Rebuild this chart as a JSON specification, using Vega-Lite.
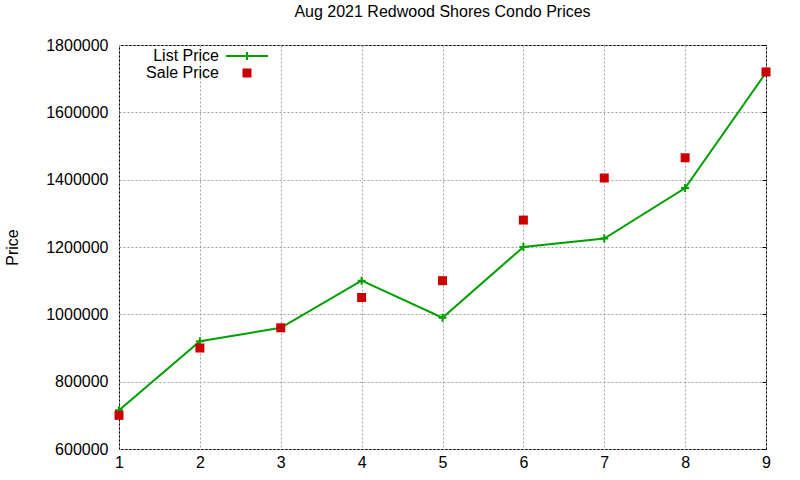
{
  "$schema": "https://vega.github.io/schema/vega-lite/v6.json",
  "width": 647,
  "height": 404,
  "autosize": {"type": "none"},
  "padding": {"left": 119, "top": 45, "right": 34, "bottom": 31},
  "background": "white",
  "title": {
    "text": "Aug 2021 Redwood Shores Condo Prices",
    "font": "Liberation Sans",
    "fontSize": 16,
    "fontWeight": "normal",
    "color": "black",
    "anchor": "middle",
    "offset": 17
  },
  "data": {
    "values": [
      {"n": 1, "series": "List Price", "price": 715000},
      {"n": 2, "series": "List Price", "price": 920000},
      {"n": 3, "series": "List Price", "price": 960000},
      {"n": 4, "series": "List Price", "price": 1100000},
      {"n": 5, "series": "List Price", "price": 990000},
      {"n": 6, "series": "List Price", "price": 1200000},
      {"n": 7, "series": "List Price", "price": 1225000},
      {"n": 8, "series": "List Price", "price": 1375000},
      {"n": 9, "series": "List Price", "price": 1718000},
      {"n": 1, "series": "Sale Price", "price": 700000},
      {"n": 2, "series": "Sale Price", "price": 900000},
      {"n": 3, "series": "Sale Price", "price": 960000},
      {"n": 4, "series": "Sale Price", "price": 1050000},
      {"n": 5, "series": "Sale Price", "price": 1100000},
      {"n": 6, "series": "Sale Price", "price": 1280000},
      {"n": 7, "series": "Sale Price", "price": 1405000},
      {"n": 8, "series": "Sale Price", "price": 1465000},
      {"n": 9, "series": "Sale Price", "price": 1720000}
    ]
  },
  "encoding": {
    "x": {
      "field": "n",
      "type": "quantitative",
      "scale": {"domain": [1, 9], "nice": false},
      "axis": {
        "title": null,
        "values": [1, 2, 3, 4, 5, 6, 7, 8, 9],
        "format": "d",
        "ticks": false,
        "domain": false,
        "labelFlush": false,
        "labelPadding": 5,
        "grid": true
      }
    }
  },
  "layer": [
    {
      "transform": [{"filter": "datum.series === 'List Price'"}],
      "mark": {"type": "line", "strokeWidth": 2},
      "encoding": {
        "y": {
          "field": "price",
          "type": "quantitative",
          "scale": {"domain": [600000, 1800000], "nice": false},
          "axis": {
            "title": "Price",
            "values": [600000, 800000, 1000000, 1200000, 1400000, 1600000, 1800000],
            "format": "d",
            "ticks": false,
            "domain": false,
            "labelFlush": false,
            "labelPadding": 11,
            "grid": true,
            "titleAngle": -90,
            "titleAlign": "center",
            "titleBaseline": "middle",
            "titleX": -107,
            "titleY": 202
          }
        },
        "color": {
          "field": "series",
          "type": "nominal",
          "scale": {"domain": ["List Price", "Sale Price"], "range": ["#00a000", "#cc0000"]},
          "legend": {
            "orient": "none",
            "legendX": 119,
            "legendY": 2,
            "title": null,
            "labelAlign": "right",
            "labelOffset": -37,
            "symbolSize": 256,
            "symbolStrokeWidth": 2,
            "padding": 0,
            "rowPadding": 0,
            "encode": {
              "symbols": {
                "update": {
                  "shape": {"signal": "datum.value === 'List Price' ? 'M-2.625,0H2.625M0,-0.5V0.5' : 'M-0.44,-0.44H0.44V0.44H-0.44Z'"},
                  "fill": {"scale": "color", "field": "value"},
                  "stroke": {"scale": "color", "field": "value"},
                  "opacity": {"value": 1}
                }
              }
            }
          }
        }
      }
    },
    {
      "transform": [{"filter": "datum.series === 'List Price'"}],
      "mark": {"type": "point", "shape": "M-1,0H1M0,-1V1", "size": 64, "filled": false, "strokeWidth": 2, "color": "#00a000", "opacity": 1},
      "encoding": {
        "y": {"field": "price", "type": "quantitative", "axis": null}
      }
    },
    {
      "transform": [{"filter": "datum.series === 'Sale Price'"}],
      "mark": {"type": "square", "size": 81, "filled": true, "opacity": 1},
      "encoding": {
        "y": {
          "field": "price",
          "type": "quantitative",
          "axis": {
            "orient": "right",
            "title": null,
            "values": [600000, 800000, 1000000, 1200000, 1400000, 1600000, 1800000],
            "labels": false,
            "grid": false,
            "domain": false,
            "ticks": true,
            "tickSize": -4,
            "tickColor": "black"
          }
        },
        "color": {"field": "series", "type": "nominal"}
      }
    }
  ],
  "resolve": {"axis": {"y": "independent"}},
  "config": {
    "font": "Liberation Sans",
    "view": {"stroke": "black", "strokeWidth": 1},
    "axis": {
      "labelFont": "Liberation Sans",
      "labelFontSize": 16,
      "labelColor": "black",
      "titleFont": "Liberation Sans",
      "titleFontSize": 16,
      "titleFontWeight": "normal",
      "titleColor": "black",
      "gridColor": "#a0a0a0",
      "gridDash": [2, 2],
      "gridWidth": 1,
      "gridOpacity": 1
    },
    "legend": {
      "labelFont": "Liberation Sans",
      "labelFontSize": 16,
      "labelColor": "black"
    }
  }
}
